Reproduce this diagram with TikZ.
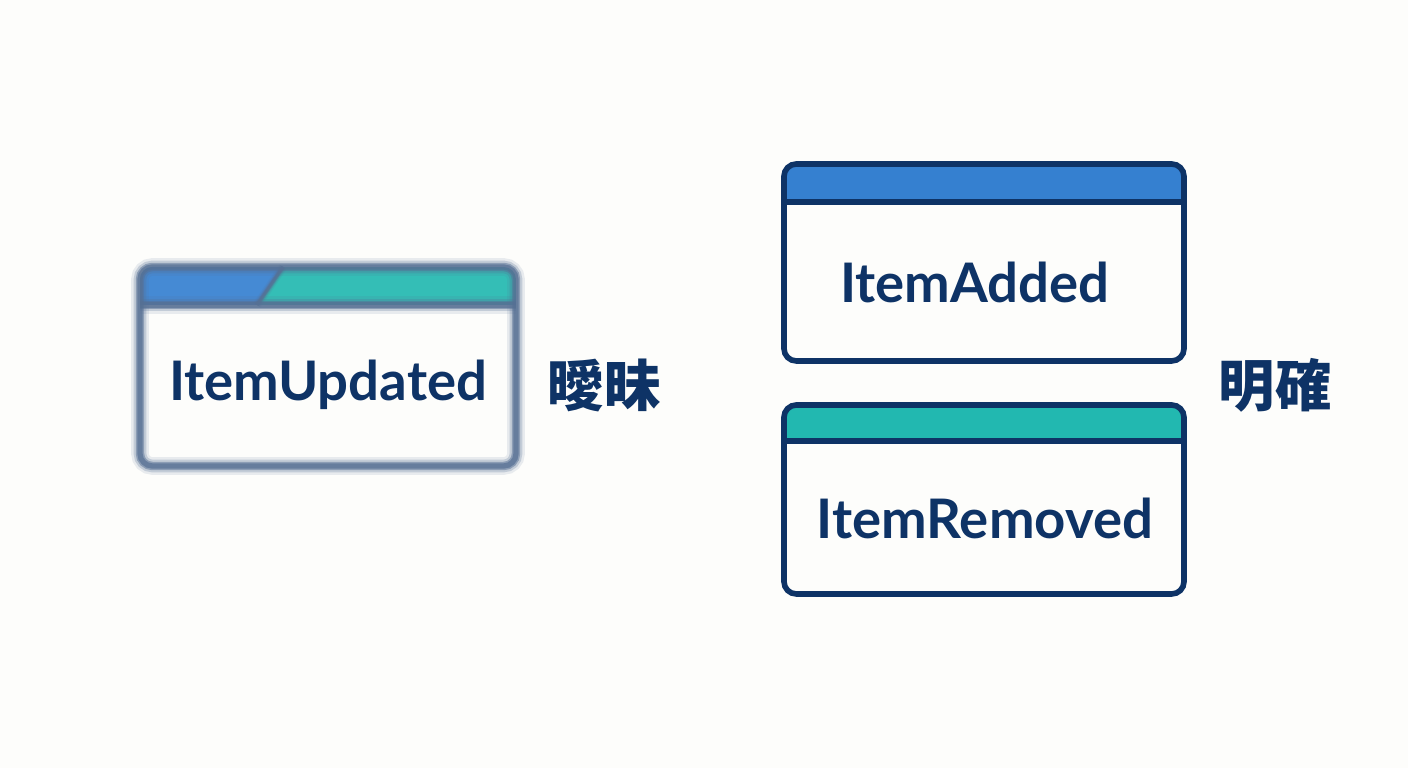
\documentclass[tikz,border=0pt]{standalone}
\usepackage{fontspec}
\setmainfont{Lato}
\newfontfamily\cjk{Noto Sans CJK JP}
\usetikzlibrary{positioning}
\definecolor{navy}{HTML}{0E3366}
\definecolor{hdrblue}{HTML}{3580D0}
\definecolor{hdrteal}{HTML}{22B8B0}
\definecolor{paper}{HTML}{FDFDFB}

\begin{document}
\begin{tikzpicture}[
    x=0.01cm, y=-0.01cm,
    edge/.style={draw=navy, line width=1.6pt, rounded corners=3.5pt},
    fuzz/.style={draw=navy!70, rounded corners=3.5pt},
    event/.style={font=\fontsize{15.5}{18}\selectfont\bfseries, text=navy, inner sep=0pt},
    verdict/.style={font=\cjk\fontsize{16}{18}\selectfont\bfseries, text=navy, inner sep=0pt},
  ]
  \fill[paper] (0,0) rectangle (1408,768);
  \useasboundingbox (0,0) rectangle (1408,768);

  % blurred card on the left
  \begin{scope}
    \clip[rounded corners=3.5pt] (140,267) rectangle (516,466);
    \fill[hdrteal!92!white] (140,267) rectangle (516,305);
    \fill[hdrblue!92!white] (140,267) -- (283,267) -- (257,305) -- (140,305) -- cycle;
  \end{scope}
  \foreach \w/\o in {5/0.12, 3.6/0.25, 2.4/0.5, 1.5/0.7} {
    \draw[fuzz, line width=\w pt, opacity=\o] (140,267) rectangle (516,466);
    \draw[navy!70, line width=\w pt, opacity=\o] (140,305) -- (516,305);
    \draw[navy!70, line width=0.5*\w pt, opacity=\o] (283,267) -- (257,305);
  }
  \node[event] (updated) at (328,385) {ItemUpdated};
  \node[verdict] (vague) at (604,385) {曖昧};

  % two clear cards on the right
  \begin{scope}
    \clip[rounded corners=3.5pt] (784,164) rectangle (1184,361);
    \fill[hdrblue] (784,164) rectangle (1184,202);
  \end{scope}
  \draw[edge] (784,164) rectangle (1184,361);
  \draw[navy, line width=1.6pt] (784,202) -- (1184,202);
  \node[event] (added) at (975,282) {ItemAdded};

  \begin{scope}
    \clip[rounded corners=3.5pt] (784,405) rectangle (1184,594);
    \fill[hdrteal] (784,405) rectangle (1184,441);
  \end{scope}
  \draw[edge] (784,405) rectangle (1184,594);
  \draw[navy, line width=1.6pt] (784,441) -- (1184,441);
  \node[event] (removed) at (985,518) {ItemRemoved};

  \node[verdict] (clear) at (1275,385) {明確};
\end{tikzpicture}
\end{document}
